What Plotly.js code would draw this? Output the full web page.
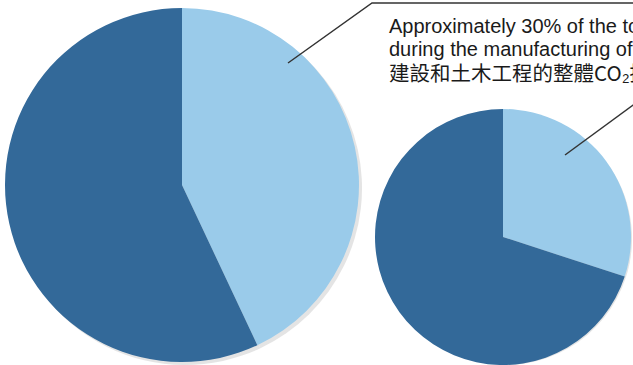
<!DOCTYPE html>
<html>
<head>
<meta charset="utf-8">
<script src="https://cdn.plot.ly/plotly-3.0.1.min.js"></script>
<style>html,body{margin:0;padding:0;background:#fff;overflow:hidden}#chart{width:633px;height:365px}</style>
</head>
<body>
<div id="chart"></div>
<script>
const categories = ['Manufacturing of materials', 'Other'];
const largePieValues = [43, 57];
const smallPieValues = [30, 70];
const calloutLines = [
  'Approximately 30% of the total',
  'during the manufacturing of',
  '建設和土木工程的整體CO₂排放'
];

const W = 633, H = 365;
const px = x => x / W;
const py = y => 1 - y / H;
const colors = ['#9acbea', '#336999'];

function pie(values, x0, x1, y0, y1, cols, opacity) {
  return {
    type: 'pie', labels: categories, values: values, sort: false,
    direction: 'clockwise', rotation: 0, textinfo: 'none', hoverinfo: 'label+percent',
    marker: {colors: cols, line: {width: 0}}, opacity: opacity === undefined ? 1 : opacity,
    domain: {x: [px(x0), px(x1)], y: [py(y1), py(y0)]}, showlegend: false
  };
}
const shadow = ['#000000', '#000000'];
const data = [
  pie(largePieValues, 8, 362, 11, 365, shadow, 0.10),
  pie(smallPieValues, 378, 634, 112, 368, shadow, 0.10),
  pie(largePieValues, 5, 359, 8, 362, colors),
  pie(smallPieValues, 375, 631, 109, 365, colors)
];

const font = {family: 'Liberation Sans, Arial, sans-serif', size: 20, color: '#1a1a1a'};
const annotations = calloutLines.map((t, i) => ({
  xref: 'paper', yref: 'paper', x: px(387), y: py(26 + i * 23),
  xanchor: 'left', yanchor: 'middle', showarrow: false, text: t,
  font: Object.assign({}, font, i === 2 ? {family: 'Noto Sans CJK TC, Liberation Sans, sans-serif', size: 20.5} : {})
}));

const lineStyle = {color: '#333333', width: 1.5};
const shapes = [
  {type: 'path', xref: 'paper', yref: 'paper', path: `M ${px(288)} ${py(63)} L ${px(372)} ${py(3)} L ${px(640)} ${py(3)}`, line: lineStyle},
  {type: 'line', xref: 'paper', yref: 'paper', x0: px(565), y0: py(155), x1: px(640), y1: py(100), line: lineStyle}
];

Plotly.newPlot('chart', data, {
  width: W, height: H, margin: {l: 0, r: 0, t: 0, b: 0},
  paper_bgcolor: '#ffffff', plot_bgcolor: '#ffffff',
  annotations: annotations, shapes: shapes, showlegend: false
}, {displayModeBar: false, staticPlot: true});
</script>
</body>
</html>
